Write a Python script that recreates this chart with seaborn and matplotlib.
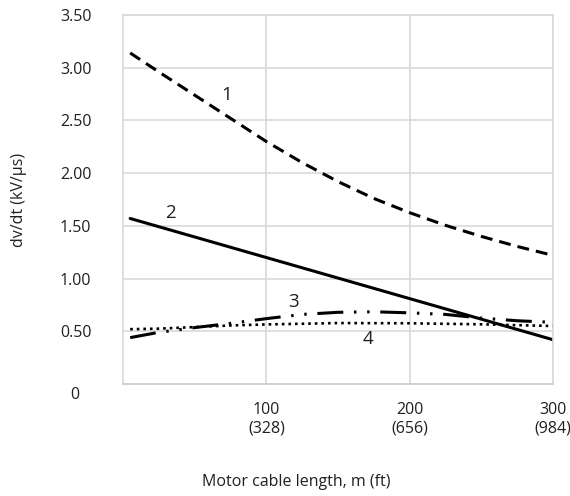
import matplotlib
matplotlib.use("Agg")
import matplotlib.pyplot as plt
import seaborn as sns

# Values (cable length in m, dv/dt in kV/us)
length_1 = [5, 25, 50, 75, 100, 125, 150, 175, 200, 225, 250, 275, 300]
dvdt_1 = [3.14, 2.96, 2.74, 2.52, 2.30, 2.10, 1.92, 1.76, 1.625, 1.505, 1.40, 1.305, 1.22]

length_2 = [5, 300]
dvdt_2 = [1.57, 0.42]

length_3 = [5, 25, 50, 75, 100, 125, 150, 175, 200, 225, 250, 275, 300]
dvdt_3 = [0.44, 0.49, 0.535, 0.575, 0.62, 0.66, 0.68, 0.685, 0.675, 0.66, 0.625, 0.60, 0.585]

length_4 = [5, 25, 50, 75, 100, 150, 200, 250, 300]
dvdt_4 = [0.52, 0.525, 0.54, 0.555, 0.565, 0.578, 0.576, 0.566, 0.55]

# curve numbers and where they sit (data coords)
curve_names = ["1", "2", "3", "4"]
curve_name_x = [72, 33, 119, 171]
curve_name_y = [2.74, 1.62, 0.78, 0.43]

x_ticks = [100, 200, 300]
x_tick_labels = ["100\n(328)", "200\n(656)", "300\n(984)"]
y_ticks = [0.5, 1.0, 1.5, 2.0, 2.5, 3.0, 3.5]
y_tick_labels = ["0.50", "1.00", "1.50", "2.00", "2.50", "3.00", "3.50"]

grid_grey = "#d9d9d9"
text_col = "#231f20"
sns.set_style("whitegrid", {"grid.color": grid_grey, "axes.edgecolor": grid_grey})
plt.rcParams["font.family"] = ["Open Sans", "DejaVu Sans"]
plt.rcParams["text.color"] = text_col
plt.rcParams["xtick.color"] = text_col
plt.rcParams["ytick.color"] = text_col
plt.rcParams["axes.labelcolor"] = text_col

fig = plt.figure(figsize=(5.7, 4.96), dpi=100)
ax = fig.add_axes([123 / 570, 1 - 384 / 496, 430 / 570, 369 / 496])

lw = 2.2
sns.lineplot(x=length_1, y=dvdt_1, ax=ax, color="black", lw=lw,
             linestyle=(0, (3.9, 2.3)))
sns.lineplot(x=length_2, y=dvdt_2, ax=ax, color="black", lw=lw)
sns.lineplot(x=length_3, y=dvdt_3, ax=ax, color="black", lw=lw,
             linestyle=(0, (8.5, 3.5, 0.8, 3.5, 0.8, 3.5)))
sns.lineplot(x=length_4, y=dvdt_4, ax=ax, color="black", lw=1.9,
             linestyle=(0, (1, 1.5)))

for name, cx, cy in zip(curve_names, curve_name_x, curve_name_y):
    ax.text(cx, cy, name, fontsize=13.5, ha="center", va="center")

ax.set_xlim(0, 300)
ax.set_ylim(0, 3.5)
ax.set_xticks(x_ticks)
ax.set_xticklabels(x_tick_labels, fontsize=11.5, linespacing=1.2)
ax.set_yticks(y_ticks)
ax.set_yticklabels(y_tick_labels, fontsize=11.5, ha="center")
ax.tick_params(axis="x", length=0, pad=13)
ax.tick_params(axis="y", length=0, pad=34)
# the zero label sits a little below the axis
ax.text(-0.112, -0.03, "0", transform=ax.get_yaxis_transform(), fontsize=11.5,
        ha="center", va="top")

ax.grid(True, color=grid_grey, lw=1.2)
for side in ax.spines.values():
    side.set_color(grid_grey)
    side.set_linewidth(1.2)
ax.spines["bottom"].set_color("#c8c8c8")

ax.set_xlabel("Motor cable length, m (ft)", fontsize=11.5)
ax.set_ylabel("dv/dt (kV/µs)", fontsize=11.5)
ax.xaxis.set_label_coords((296 - 123) / 430, -0.245)
ax.yaxis.set_label_coords((27 - 123) / 430, 0.5)

fig.savefig("out.png", dpi=100, facecolor="white")
